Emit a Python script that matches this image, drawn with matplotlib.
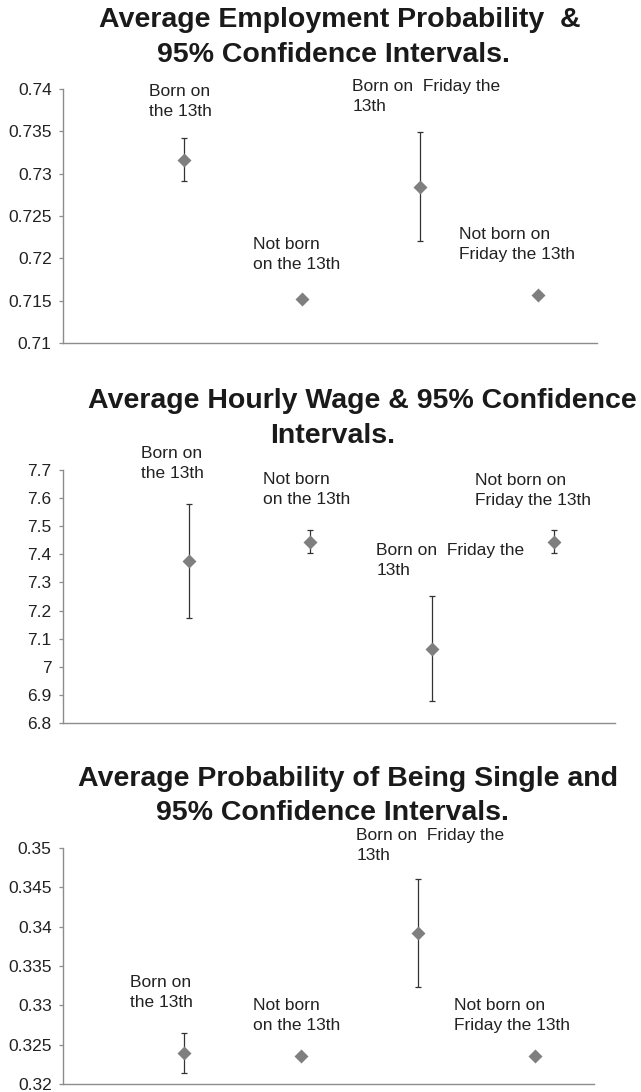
import numpy as np
import matplotlib.pyplot as plt

plt.rcParams['font.family'] = ['Liberation Sans', 'DejaVu Sans']

W, H = 641, 1092

groups = ['Born on\nthe 13th', 'Not born\non the 13th',
          'Born on  Friday the\n13th', 'Not born on\nFriday the 13th']

# employment probability: mean and 95% CI
emp_mean = [0.73165, 0.71524, 0.72843, 0.71571]
emp_low = [0.72917, 0.71505, 0.72209, 0.71552]
emp_high = [0.73417, 0.71543, 0.73496, 0.71590]

# hourly wage
wage_mean = [7.3755, 7.445, 7.064, 7.445]
wage_low = [7.175, 7.404, 6.879, 7.404]
wage_high = [7.579, 7.488, 7.250, 7.488]

# probability of being single
single_mean = [0.3239, 0.32361, 0.33918, 0.32361]
single_low = [0.32144, 0.32342, 0.33231, 0.32342]
single_high = [0.32653, 0.32380, 0.34605, 0.32380]

emp_ticks = [0.71, 0.715, 0.72, 0.725, 0.73, 0.735, 0.74]
wage_ticks = [6.8, 6.9, 7.0, 7.1, 7.2, 7.3, 7.4, 7.5, 7.6, 7.7]
single_ticks = [0.32, 0.325, 0.33, 0.335, 0.34, 0.345, 0.35]

panels = [
    dict(mean=emp_mean, low=emp_low, high=emp_high, ticks=emp_ticks,
         title=['Average Employment Probability  &', '95% Confidence Intervals.'],
         box=(63, 89, 597, 343), tcx=(340, 333), tby=(27, 62),
         offs=[(-35, 76), (-49, 62), (-68, 108), (-79, 68)]),
    dict(mean=wage_mean, low=wage_low, high=wage_high, ticks=wage_ticks,
         title=['Average Hourly Wage & 95% Confidence', 'Intervals.'],
         box=(63, 470, 615, 723), tcx=(362, 333), tby=(408, 443),
         offs=[(-48, 115), (-47, 70), (-56, 106), (-79, 69)]),
    dict(mean=single_mean, low=single_low, high=single_high, ticks=single_ticks,
         title=['Average Probability of Being Single and', '95% Confidence Intervals.'],
         box=(63, 848, 594, 1084), tcx=(348, 332), tby=(786, 820),
         offs=[(-54, 78), (-48, 58), (-62, 105), (-81, 58)]),
]

fig = plt.figure(figsize=(W / 100, H / 100), dpi=100)
x = np.arange(1, 5)

for p in panels:
    l, t, r, b = p['box']
    ax = fig.add_axes([l / W, 1 - b / H, (r - l) / W, (b - t) / H])
    mean = np.array(p['mean'])
    err = [mean - np.array(p['low']), np.array(p['high']) - mean]
    ax.errorbar(x, mean, yerr=err, fmt='none', ecolor='#333333',
                elinewidth=0.9, capsize=2.5, capthick=0.9, zorder=2)
    ax.plot(x, mean, 'D', color='#7f7f7f', ms=7, mec='none', zorder=3)
    for i, g in enumerate(groups):
        ax.annotate(g, (x[i], mean[i]), xytext=p['offs'][i],
                    textcoords='offset pixels', ha='left', va='top',
                    fontsize=12.5, color='#222222', linespacing=1.42)
    ax.set_xlim(-0.03, 4.5)
    ax.set_ylim(p['ticks'][0], p['ticks'][-1])
    ax.set_yticks(p['ticks'])
    ax.set_yticklabels(['%g' % v for v in p['ticks']])
    ax.set_xticks([])
    for s in ['top', 'right']:
        ax.spines[s].set_visible(False)
    for s in ['left', 'bottom']:
        ax.spines[s].set_color('#8c8c8c')
        ax.spines[s].set_linewidth(1.0)
    ax.tick_params(axis='y', length=3.1, width=0.9, color='#8c8c8c',
                   labelsize=12.5, labelcolor='#222222', pad=5)
    ax.patch.set_visible(False)
    for line, cx, by in zip(p['title'], p['tcx'], p['tby']):
        fig.text(cx / W, 1 - by / H, line, ha='center', va='baseline',
                 fontsize=20.5, fontweight='bold', color='#1a1a1a')

fig.savefig('out.png', dpi=100)
